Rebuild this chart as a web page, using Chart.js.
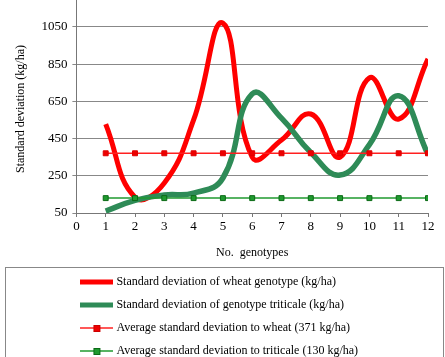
<!DOCTYPE html>
<html lang="en">
<head>
    <meta charset="UTF-8">
    <title>Standard deviation of genotypes</title>
    <script src="https://cdn.jsdelivr.net/npm/chart.js@4.4.1/dist/chart.umd.min.js"></script>
    <style>
        html, body { margin: 0; padding: 0; overflow: hidden; background: #fff; }
        #wrap { width: 445px; height: 367px; position: relative; }
    </style>
</head>
<body>
    <div id="wrap"><canvas id="chart"></canvas></div>

    <script>
        const genotypes = [1, 2, 3, 4, 5, 6, 7, 8, 9, 10, 11, 12];
        const wheatSd = [528, 135, 211, 550, 1070, 350, 442, 582, 351, 776, 555, 878];
        const triticaleSd = [60, 118, 147, 157, 238, 690, 560, 375, 254, 418, 680, 365];
        const wheatAvg = 371;
        const triticaleAvg = 130;
        const yTicks = [50, 250, 450, 650, 850, 1050];

        const labels = [
            'Standard deviation of wheat genotype (kg/ha)',
            'Standard deviation of genotype triticale (kg/ha)',
            'Average standard deviation to wheat (371 kg/ha)',
            'Average standard deviation to triticale (130 kg/ha)'
        ];

        Chart.defaults.font.family = "'Liberation Serif', 'Times New Roman', serif";
        Chart.defaults.color = '#000';

        // small line samples for the legend
        function sample(color, width, markerFill, markerBorder) {
            const c = document.createElement('canvas');
            c.width = 33;
            c.height = 12;
            const g = c.getContext('2d');
            g.strokeStyle = color;
            g.lineWidth = width;
            g.beginPath();
            g.moveTo(0, 6);
            g.lineTo(33, 6);
            g.stroke();
            if (markerFill) {
                g.fillStyle = markerFill;
                g.fillRect(13, 3, 7, 7);
                g.strokeStyle = markerBorder;
                g.lineWidth = 1;
                g.strokeRect(13.5, 3.5, 6, 6);
            }
            return c;
        }
        const samples = [
            sample('#ff0000', 5),
            sample('#2e8b57', 5),
            sample('#ff2020', 1.5, '#ee0000', '#cc0000'),
            sample('#1f9a2f', 1.5, '#1f9a2f', '#0a6a15')
        ];

        const pts = arr => genotypes.map((g, i) => ({x: g, y: arr[i]}));
        const flat = v => genotypes.map(g => ({x: g, y: v}));

        const legendBox = {
            id: 'legendBox',
            afterLayout(chart) {
                chart.legend.left -= 4;
            },
            afterDraw(chart) {
                const ctx = chart.ctx;
                const a = chart.chartArea;
                ctx.save();
                // y axis line runs up to the top edge
                ctx.strokeStyle = '#777';
                ctx.lineWidth = 1;
                ctx.beginPath();
                ctx.moveTo(Math.round(a.left) + 0.5, 0);
                ctx.lineTo(Math.round(a.left) + 0.5, a.top);
                ctx.stroke();
                // frame round the legend
                ctx.strokeStyle = '#888';
                ctx.strokeRect(5.5, chart.legend.top + 2.5, 438, 200);
                ctx.restore();
            }
        };

        new Chart(document.getElementById('chart'), {
            type: 'line',
            data: {
                datasets: [
                    {
                        label: labels[0],
                        data: pts(wheatSd),
                        borderColor: '#ff0000',
                        borderWidth: 5,
                        tension: 0.45,
                        pointRadius: 0,
                        order: 4
                    },
                    {
                        label: labels[1],
                        data: pts(triticaleSd),
                        borderColor: '#2e8b57',
                        borderWidth: 5.5,
                        tension: 0.45,
                        pointRadius: 0,
                        order: 3
                    },
                    {
                        label: labels[2],
                        data: flat(wheatAvg),
                        borderColor: '#ff2020',
                        borderWidth: 1.5,
                        pointStyle: 'rect',
                        pointRadius: 3.5,
                        pointBackgroundColor: '#ee0000',
                        pointBorderColor: '#dd0000',
                        pointBorderWidth: 1,
                        order: 2
                    },
                    {
                        label: labels[3],
                        data: flat(triticaleAvg),
                        borderColor: '#1f9a2f',
                        borderWidth: 1.5,
                        pointStyle: 'rect',
                        pointRadius: 3.5,
                        pointBackgroundColor: '#1f9a2f',
                        pointBorderColor: '#0a6a15',
                        pointBorderWidth: 1,
                        order: 1
                    }
                ]
            },
            options: {
                responsive: true,
                maintainAspectRatio: false,
                animation: false,
                layout: { padding: { left: 10, right: 17, top: 0, bottom: 0 } },
                scales: {
                    x: {
                        type: 'linear',
                        min: 0,
                        max: 12,
                        ticks: { stepSize: 1, padding: 2, font: { size: 13 } },
                        grid: { drawOnChartArea: false, tickLength: 4, color: '#777' },
                        border: { color: '#777' },
                        title: {
                            display: true,
                            text: 'No.  genotypes',
                            font: { size: 12 },
                            padding: { top: 9, bottom: 5 }
                        }
                    },
                    y: {
                        min: 50,
                        max: 1168,
                        afterBuildTicks: axis => { axis.ticks = yTicks.map(v => ({value: v})); },
                        afterFit: axis => { axis.paddingTop = 0; },
                        ticks: { padding: 5, font: { size: 13 }, callback: v => String(v) },
                        grid: { color: '#888', tickLength: 4 },
                        border: { color: '#777' },
                        title: {
                            display: true,
                            text: 'Standard deviation (kg/ha)',
                            font: { size: 12 },
                            padding: { top: 4, bottom: 8 }
                        }
                    }
                },
                plugins: {
                    tooltip: { enabled: false },
                    legend: {
                        position: 'bottom',
                        align: 'start',
                        fullSize: false,
                        labels: {
                            usePointStyle: true,
                            pointStyleWidth: 27,
                            padding: 11,
                            font: { size: 12 },
                            color: '#000',
                            sort: (a, b) => a.datasetIndex - b.datasetIndex,
                            generateLabels: chart => {
                                const items = Chart.defaults.plugins.legend.labels.generateLabels(chart);
                                items.forEach(it => { it.pointStyle = samples[it.datasetIndex]; });
                                return items;
                            }
                        }
                    }
                }
            },
            plugins: [legendBox]
        });
    </script>
</body>
</html>
